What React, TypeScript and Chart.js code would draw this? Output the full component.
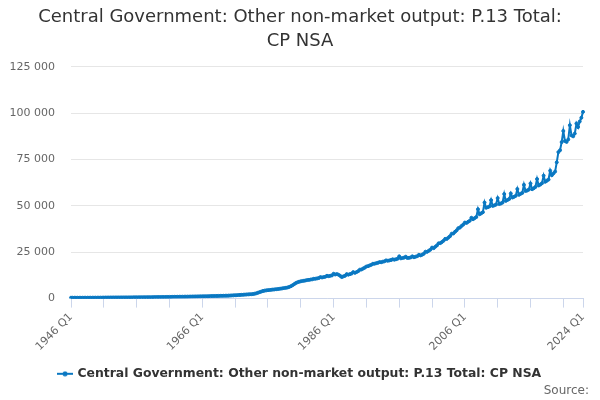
import { useRef, useEffect } from "react";
import { Chart, registerables, type ChartConfiguration } from "chart.js";

Chart.register(...registerables);

// quarterly values, £m (Q1..Q4 per year)
const values1940s = [
  480, 470, 460, 455, 450, 445, 450, 455, 460, 465, 470, 475, 480, 485, 490, 495,
];
const values1950s = [
  500, 505, 510, 520, 535, 550, 560, 570, 580, 590, 595, 600, 605, 610, 615, 620,
  625, 630, 635, 640, 650, 660, 670, 680, 690, 700, 710, 720, 730, 740, 750, 760,
  770, 780, 790, 800, 810, 820, 830, 840,
];
const values1960s = [
  850, 860, 875, 890, 905, 920, 935, 950, 965, 980, 990, 1000, 1010, 1025, 1040, 1055,
  1070, 1090, 1110, 1130, 1150, 1170, 1190, 1210, 1230, 1250, 1270, 1290, 1310, 1340,
  1370, 1400, 1420, 1440, 1460, 1480, 1500, 1520, 1545, 1570,
];
const values1970s = [
  1600, 1650, 1700, 1750, 1800, 1860, 1920, 1970, 2020, 2080, 2150, 2220, 2280, 2340,
  2400, 2480, 2650, 2900, 3200, 3500, 3800, 4100, 4300, 4450, 4550, 4650, 4750, 4850,
  4950, 5050, 5150, 5250, 5400, 5550, 5700, 5850, 6000, 6300, 6700, 7200,
];
const values1980s = [
  7800, 8400, 8800, 9100, 9300, 9500, 9650, 9800, 10000, 10100, 10250, 10400, 10700,
  10700, 10900, 11100, 11600, 11400, 11600, 11800, 12300, 12100, 12300, 12500, 13400,
  13000, 13200, 12900, 12300, 11600, 12000, 12300, 13200, 12900, 13200, 13500, 14300,
  13900, 14300, 14800,
];
const values1990s = [
  15600, 15700, 16200, 16700, 17300, 17500, 17900, 18200, 18800, 18800, 19100, 19300,
  19700, 19600, 19900, 20100, 20600, 20400, 20600, 20800, 21200, 21000, 21200, 21500,
  22800, 21700, 21900, 22100, 22600, 21900, 22000, 22200, 22800, 22300, 22600, 22900,
  23600, 23300, 23700, 24200,
];
const values2000s = [
  25300, 25200, 25800, 26400, 27500, 27200, 28000, 28700, 29800, 29900, 30500, 31200,
  32200, 32200, 32900, 33700, 35000, 35100, 36000, 36800, 38000, 38300, 39200, 39900,
  41000, 40800, 41400, 42000, 43600, 42800, 43400, 44000, 48200, 45500, 46000, 46600,
  51800, 49000, 49300, 49700,
];
const values2010s = [
  53100, 50000, 50300, 50700, 54200, 51000, 51300, 51800, 56400, 52700, 53200, 53700,
  56700, 54500, 54900, 55400, 59100, 56000, 56500, 57000, 61400, 58000, 58300, 58800,
  62100, 59000, 59500, 60200, 64500, 61000, 61500, 62200, 66300, 63000, 63600, 64200,
  69000, 66500, 67500, 68500,
];
const values2020s = [
  73500, 79000, 80000, 84400, 90400, 85000, 84500, 85800, 93500, 88000, 87500, 89000,
  94400, 92500, 95500, 97500, 100700,
];

const values = [
  ...values1940s,
  ...values1950s,
  ...values1960s,
  ...values1970s,
  ...values1980s,
  ...values1990s,
  ...values2000s,
  ...values2010s,
  ...values2020s,
];

const startYear = 1946;
const quarters = ["Q1", "Q2", "Q3", "Q4"];
const labels = values.map(
  (_, i) => `${startYear + Math.floor(i / 4)} ${quarters[i % 4]}`
);
const labelledIndexes = [0, 80, 160, 240, values.length - 1];
const yTicks = [0, 25000, 50000, 75000, 100000, 125000];

const seriesName = "Central Government: Other non-market output: P.13 Total: CP NSA";
const blue = "#0a78c2";

function spaced(v: number) {
  return String(v).replace(/\B(?=(\d{3})+(?!\d))/g, " ");
}

function legendIcon() {
  const c = document.createElement("canvas");
  c.width = 16;
  c.height = 6;
  const g = c.getContext("2d")!;
  g.strokeStyle = blue;
  g.lineWidth = 2;
  g.beginPath();
  g.moveTo(0, 3);
  g.lineTo(16, 3);
  g.stroke();
  g.fillStyle = blue;
  g.beginPath();
  g.arc(8, 3, 2.5, 0, Math.PI * 2);
  g.fill();
  return c;
}

export default function App() {
  const chartRef = useRef<HTMLCanvasElement | null>(null);
  const chartInstanceRef = useRef<Chart | null>(null);

  useEffect(() => {
    if (!chartRef.current) return;
    const ctx = chartRef.current.getContext("2d");
    if (!ctx) return;
    if (chartInstanceRef.current) chartInstanceRef.current.destroy();

    const config: ChartConfiguration = {
      type: "line",
      data: {
        labels,
        datasets: [
          {
            label: seriesName,
            data: values,
            borderColor: blue,
            backgroundColor: blue,
            borderWidth: 2,
            pointRadius: 1.5,
            pointBorderWidth: 1,
            tension: 0,
          },
        ],
      },
      options: {
        animation: false,
        responsive: false,
        maintainAspectRatio: false,
        layout: { padding: { left: 0, right: 0, top: 0, bottom: 10 } },
        plugins: {
          title: {
            display: true,
            text: [
              "Central Government: Other non-market output: P.13 Total:",
              "CP NSA",
            ],
            color: "#333333",
            font: { family: "DejaVu Sans", size: 18, weight: "normal", lineHeight: 1.3 },
            padding: { top: 6, bottom: 14 },
          },
          legend: {
            position: "bottom",
            labels: {
              usePointStyle: true,
              pointStyle: legendIcon(),
              color: "#333333",
              font: { family: "DejaVu Sans", size: 12.4, weight: "bold" },
              padding: 0,
            },
          },
          tooltip: { enabled: false },
        },
        scales: {
          x: {
            afterFit: (scale) => {
              scale.height = 69;
            },
            grid: {
              display: true,
              drawOnChartArea: false,
              drawTicks: true,
              tickLength: 9,
              color: "#ccd6eb",
            },
            border: { display: true, color: "#ccd6eb" },
            ticks: {
              autoSkip: false,
              maxRotation: 45,
              minRotation: 45,
              color: "#666666",
              font: { family: "DejaVu Sans", size: 11 },
              callback: (_v, i) => {
                if (labelledIndexes.includes(i)) return labels[i];
                if (i % 20 === 0) return "";
                return null;
              },
            },
          },
          y: {
            min: 0,
            max: 125000,
            afterFit: (scale) => {
              scale.width = 71;
            },
            afterBuildTicks: (scale) => {
              scale.ticks = yTicks.map((v) => ({ value: v }));
            },
            grid: { color: "#e6e6e6", drawTicks: false },
            border: { display: false },
            ticks: {
              color: "#666666",
              padding: 16,
              font: { family: "DejaVu Sans", size: 11 },
              callback: (v) => spaced(Number(v)),
            },
          },
          // empty right-hand strip so the plot ends where the reference does
          gap: {
            type: "linear",
            position: "right",
            afterFit: (scale) => {
              scale.width = 17;
            },
            grid: { display: false },
            border: { display: false },
            ticks: { display: false },
          },
        },
      },
    };

    chartInstanceRef.current = new Chart(ctx, config);

    return () => {
      if (chartInstanceRef.current) {
        chartInstanceRef.current.destroy();
        chartInstanceRef.current = null;
      }
    };
  }, []);

  return (
    <div style={{ position: "absolute", left: 0, top: 0, width: 600, height: 400 }}>
      <canvas ref={chartRef} width={600} height={400} />
      <div
        style={{
          position: "absolute",
          right: 11,
          top: 383,
          fontFamily: "DejaVu Sans",
          fontSize: 12,
          lineHeight: "14px",
          color: "#666666",
        }}
      >
        Source:
      </div>
    </div>
  );
}
